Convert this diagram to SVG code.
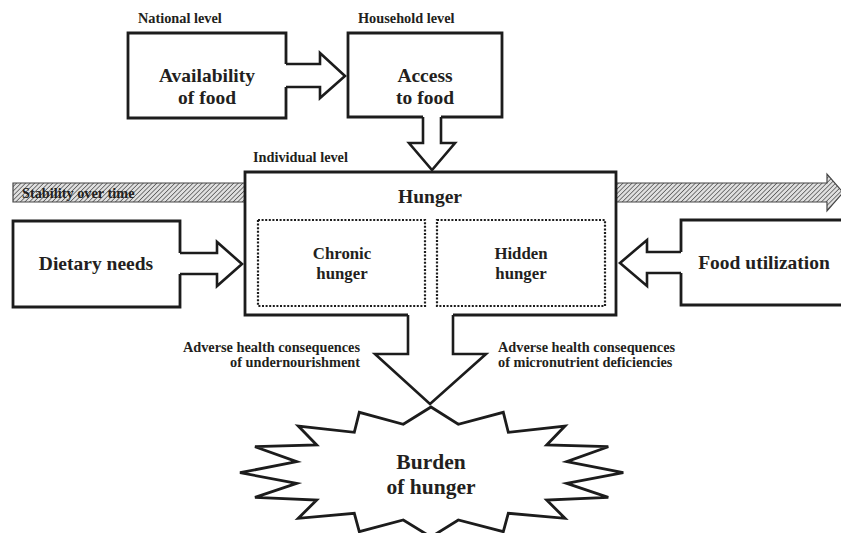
<svg xmlns="http://www.w3.org/2000/svg" width="841" height="533" viewBox="0 0 841 533">
<defs>
  <pattern id="hatch" patternUnits="userSpaceOnUse" width="3.2" height="3.2" patternTransform="rotate(45)">
    <rect width="3.2" height="3.2" fill="#e0e0e0"/>
    <line x1="0" y1="0" x2="0" y2="3.2" stroke="#4a4a4a" stroke-width="1.4"/>
  </pattern>
</defs>
<style>
  .box { fill: #fff; stroke: #1c1c1c; stroke-width: 2.8; stroke-linejoin: miter; }
  .arrow { fill: #fff; stroke: #1c1c1c; stroke-width: 2.6; stroke-linejoin: miter; }
  .dot { fill: none; stroke: #1c1c1c; stroke-width: 2.2; stroke-dasharray: 2 1.6; }
  .t { font-family: "Liberation Serif", "Times New Roman", serif; font-weight: bold; fill: #231f20; }
  .big { font-size: 19.5px; text-anchor: middle; }
  .mid { font-size: 16.8px; text-anchor: middle; }
  .lbl { font-size: 14.3px; }
</style>

<g id="connectors">
  <polygon id="stability" points="13,183 827,183 827,174 843,192.5 827,211 827,202 13,202" fill="url(#hatch)" stroke="#444" stroke-width="1.2"/>
  <polyline class="arrow" points="286,64 320,64 320,53 345,76 320,98 320,87 286,87"/>
  <polyline class="arrow" points="423,117 423,143 409,143 432,170 455,143 441,143 441,117"/>
  <polyline class="arrow" points="180,253 217,253 217,242 242,264 217,286 217,274 180,274"/>
  <polyline class="arrow" points="681,252 647,252 647,240 620,263 647,286 647,273 681,273"/>
  <polyline class="arrow" points="408,315 408,354 375,354 430,404 486,354 453,354 453,315"/>
</g>

<text class="t lbl" x="22" y="198">Stability over time</text>

<g id="availability">
  <text class="t lbl" x="138" y="23">National level</text>
  <path class="box" d="M286,87 V118 H128 V33 H286 V64"/>
  <text class="t big" x="207" y="82">Availability</text>
  <text class="t big" x="207" y="104">of food</text>
</g>

<g id="access">
  <text class="t lbl" x="358" y="23">Household level</text>
  <path class="box" d="M441,117 H502 V33 H348 V117 H423"/>
  <text class="t big" x="425" y="82">Access</text>
  <text class="t big" x="425" y="104">to food</text>
</g>

<g id="hunger">
  <text class="t lbl" x="253" y="162">Individual level</text>
  <path class="box" d="M453,315 H616 V172 H245 V315 H408"/>
  <text class="t big" x="430" y="203" font-size="20">Hunger</text>
  <g id="chronic">
    <rect class="dot" x="258" y="220" width="167" height="86"/>
    <text class="t mid" x="342" y="259">Chronic</text>
    <text class="t mid" x="342" y="279">hunger</text>
  </g>
  <g id="hidden">
    <rect class="dot" x="437" y="220" width="168" height="86"/>
    <text class="t mid" x="521" y="259">Hidden</text>
    <text class="t mid" x="521" y="279">hunger</text>
  </g>
</g>

<g id="dietary">
  <path class="box" d="M180,274 V307 H13 V221 H180 V253"/>
  <text class="t big" x="96" y="270">Dietary needs</text>
</g>

<g id="utilization">
  <path class="box" d="M681,252 V220 H850 V305 H681 V273"/>
  <text class="t big" x="764" y="269">Food utilization</text>
</g>

<g id="labels">
  <text class="t lbl" x="360" y="352" text-anchor="end">Adverse health consequences</text>
  <text class="t lbl" x="360" y="367" text-anchor="end">of undernourishment</text>
  <text class="t lbl" x="498" y="352">Adverse health consequences</text>
  <text class="t lbl" x="498" y="367">of micronutrient deficiencies</text>
</g>

<g id="burden">
  <polygon class="box" points="431,407 458.3,424.3 503.3,412.3 508.3,432.3 565,426 546.7,445 608.3,446.7 566.7,461.7 623.3,472.7 566.7,483.3 608.3,497.3 546.7,500 565,518.3 508.3,513.3 503.3,531.7 458.3,520 431,537 403.3,520 359.3,531.7 354.3,513.3 298.3,518.3 316.7,500 255,497.3 296.7,483.3 240,472.7 296.7,461.7 255,446.7 316.7,445 298.3,426 354.3,432.3 359.3,412.3 403.3,424.3"/>
  <text class="t" x="431" y="469" font-size="21.5" text-anchor="middle">Burden</text>
  <text class="t" x="431" y="494" font-size="21.5" text-anchor="middle">of hunger</text>
</g>
</svg>
